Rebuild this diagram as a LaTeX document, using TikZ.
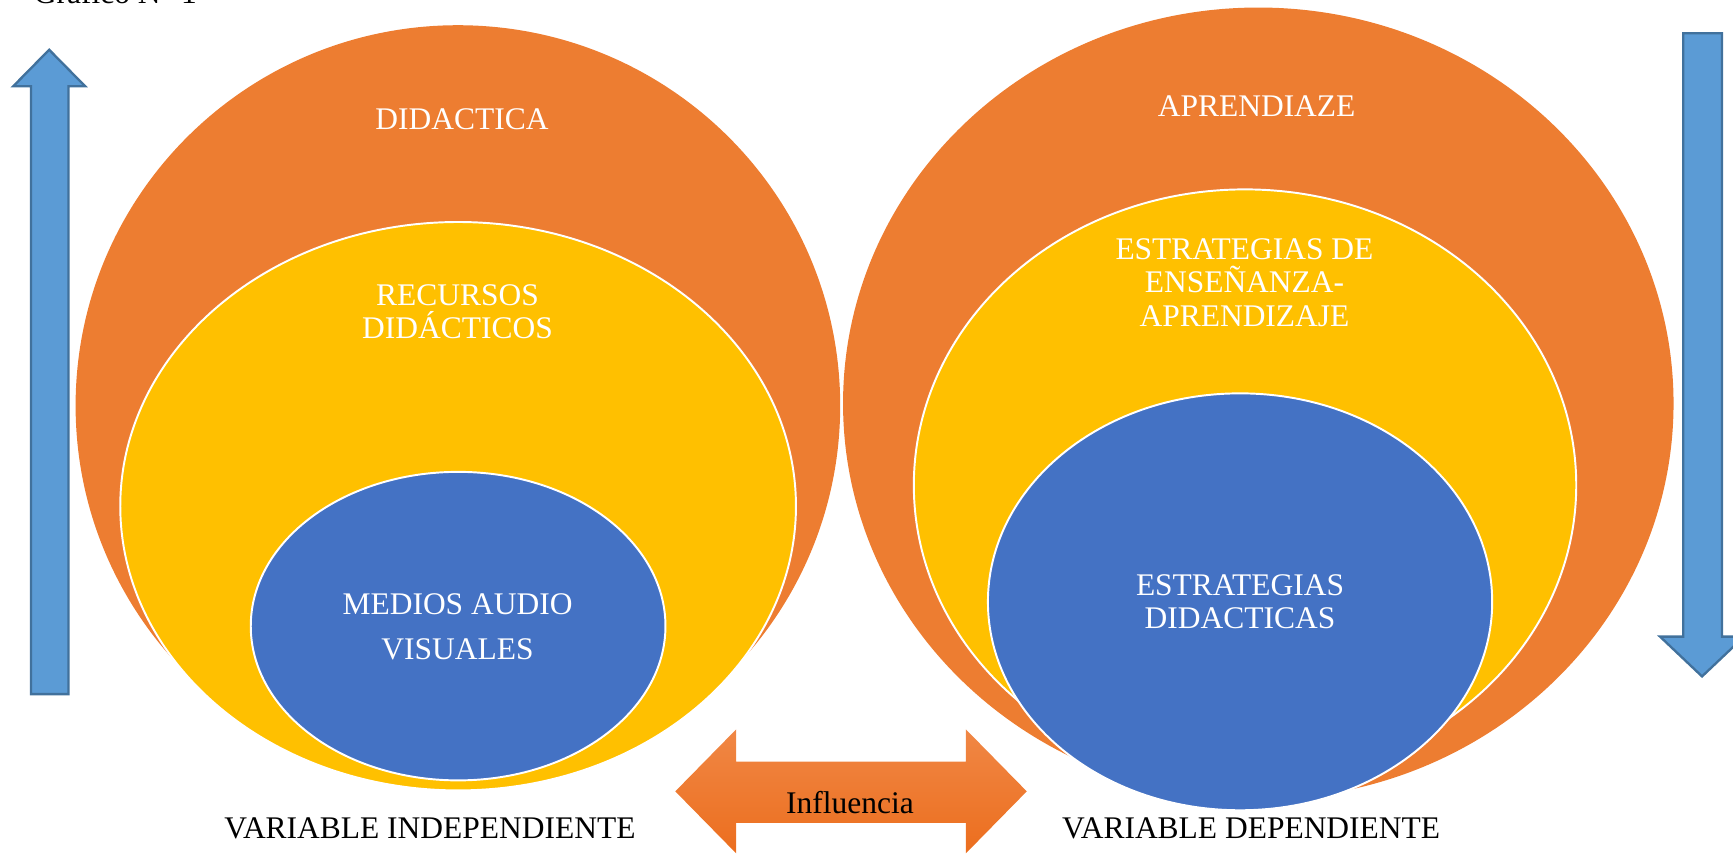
\documentclass[tikz,border=0pt]{standalone}
\usepackage{fontspec}
\setmainfont{Liberation Serif}
\usetikzlibrary{shapes.geometric}
\definecolor{corange}{HTML}{ED7D31}
\definecolor{cyellow}{HTML}{FFC000}
\definecolor{cblue}{HTML}{4472C4}
\definecolor{carrow}{HTML}{5B9BD5}
\definecolor{carrowb}{HTML}{41719C}
\definecolor{cinfl}{HTML}{F08745}
\definecolor{cinfldark}{HTML}{EC6E1E}
\begin{document}
\begin{tikzpicture}[x=0.01cm,y=-0.01cm,
  blob/.style={ellipse,inner sep=0pt,outer sep=0pt},
  outerblob/.style={blob,fill=corange},
  midblob/.style={blob,fill=cyellow,draw=white,line width=0.5pt},
  innerblob/.style={blob,fill=cblue,draw=white,line width=0.5pt},
  lbl/.style={font=\fontsize{8.1}{9.7}\selectfont,text=white,anchor=base,inner sep=0pt},
  blk/.style={font=\fontsize{8.1}{9.7}\selectfont,text=black,anchor=base,inner sep=0pt},
  bluearrow/.style={fill=carrow,draw=carrowb,line width=0.6pt,line join=miter}]
\useasboundingbox (0,0) rectangle (1568,772.7);
% title (cut by the top edge)
\node[blk,anchor=base west] (title) at (30,3) {Gráfico N° 1};
% left group
\node[outerblob,minimum width=6.914cm,minimum height=6.88cm] (lo) at (414.3,367) {};
\node[midblob,minimum width=6.11cm,minimum height=5.14cm] (ly) at (414.5,458) {};
\node[innerblob,minimum width=3.75cm,minimum height=2.79cm] (lb) at (414.5,566.5) {};
\node[lbl] (t1) at (418,117) {DIDACTICA};
\node[lbl] (t2) at (414,276) {RECURSOS};
\node[lbl] (t3) at (414,306) {DIDÁCTICOS};
\node[lbl] (t4) at (414,556) {MEDIOS AUDIO};
\node[lbl] (t5) at (414,597) {VISUALES};
% right group
\node[outerblob,minimum width=7.51cm,minimum height=7.16cm] (ro) at (1138.5,365) {};
\node[midblob,minimum width=5.99cm,minimum height=5.35cm] (ry) at (1126.5,439) {};
\node[innerblob,minimum width=4.56cm,minimum height=3.77cm] (rb) at (1122,544.5) {};
\node[lbl] (t6) at (1137,105) {APRENDIAZE};
\node[lbl] (t7) at (1126,235) {ESTRATEGIAS DE};
\node[lbl] (t8) at (1126,265) {ENSEÑANZA-};
\node[lbl] (t9) at (1126,295) {APRENDIZAJE};
\node[lbl] (t10) at (1122,539) {ESTRATEGIAS};
\node[lbl] (t11) at (1122,569) {DIDACTICAS};
% blue arrows
\draw[bluearrow] (28,628) -- (28,78) -- (12,78) -- (44.5,45) -- (77,78) -- (62,78) -- (62,628) -- cycle;
\draw[bluearrow] (1523,30) -- (1523,576) -- (1502,576) -- (1540,612) -- (1578,576) -- (1558,576) -- (1558,30) -- cycle;
% influence double arrow
\shade[top color=cinfl,bottom color=cinfldark]
  (611,716) -- (666,660) -- (666,689) -- (874,689) -- (874,660) -- (929,716)
  -- (874,772) -- (874,744.5) -- (666,744.5) -- (666,772) -- cycle;
\node[blk] (infl) at (769,736) {Influencia};
% captions
\node[blk] (vi) at (389,759) {VARIABLE INDEPENDIENTE};
\node[blk] (vd) at (1132,759) {VARIABLE DEPENDIENTE};
\end{tikzpicture}
\end{document}
